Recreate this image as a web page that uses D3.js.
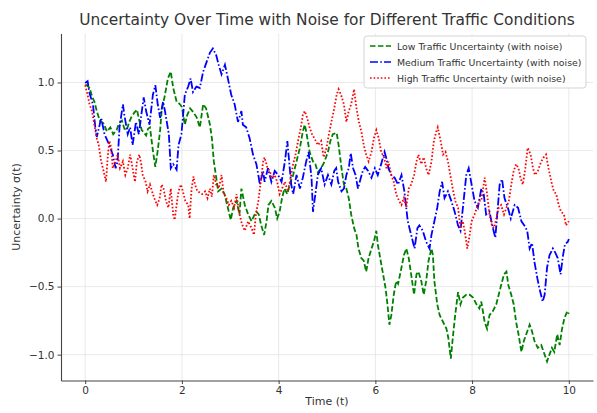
<!DOCTYPE html>
<html>
<head>
<meta charset="utf-8">
<script src="https://cdn.jsdelivr.net/npm/d3@7"></script>
<style>
  body { margin: 0; background: #fff; }
  svg text { font-family: "DejaVu Sans", sans-serif; fill: #333; }
</style>
</head>
<body>
<div id="chart"></div>
<script>
"use strict";

// values, [t, sigma]
var low = [[0,0.98],[0.03,0.98],[0.09,0.96],[0.15,0.89],[0.19,0.86],[0.24,0.79],[0.30,0.72],[0.38,0.70],[0.45,0.64],[0.52,0.67],[0.58,0.62],[0.65,0.65],[0.70,0.70],[0.76,0.72],[0.81,0.66],[0.86,0.65],[0.91,0.71],[0.96,0.75],[1.02,0.78],[1.07,0.80],[1.12,0.72],[1.17,0.65],[1.22,0.63],[1.26,0.61],[1.30,0.66],[1.34,0.67],[1.40,0.50],[1.45,0.38],[1.50,0.50],[1.55,0.65],[1.58,0.79],[1.65,0.91],[1.71,1.03],[1.77,1.08],[1.82,0.96],[1.89,0.86],[1.96,0.84],[2.00,0.82],[2.06,0.69],[2.11,0.76],[2.17,0.81],[2.24,0.78],[2.31,0.74],[2.37,0.67],[2.44,0.84],[2.50,0.81],[2.58,0.69],[2.62,0.59],[2.66,0.42],[2.71,0.30],[2.75,0.20],[2.82,0.22],[2.88,0.18],[2.95,0.08],[3.01,-0.01],[3.06,0.08],[3.13,0.13],[3.19,0.03],[3.23,0.22],[3.30,0.10],[3.37,0.03],[3.44,-0.02],[3.49,0.02],[3.54,0.05],[3.59,0.03],[3.64,-0.05],[3.70,-0.12],[3.75,-0.02],[3.79,0.10],[3.85,0.13],[3.92,0.08],[3.97,0.00],[4.02,0.05],[4.07,0.15],[4.12,0.22],[4.18,0.18],[4.23,0.25],[4.30,0.32],[4.37,0.42],[4.44,0.52],[4.50,0.64],[4.54,0.69],[4.57,0.64],[4.64,0.49],[4.71,0.42],[4.76,0.40],[4.81,0.34],[4.88,0.37],[4.95,0.42],[5.02,0.49],[5.07,0.57],[5.12,0.62],[5.20,0.63],[5.24,0.54],[5.30,0.37],[5.35,0.25],[5.40,0.22],[5.45,0.15],[5.50,0.03],[5.56,-0.07],[5.61,-0.12],[5.65,-0.22],[5.71,-0.29],[5.76,-0.31],[5.81,-0.39],[5.86,-0.29],[5.92,-0.22],[5.97,-0.17],[6.02,-0.09],[6.05,-0.19],[6.11,-0.31],[6.16,-0.41],[6.21,-0.51],[6.25,-0.63],[6.29,-0.78],[6.33,-0.71],[6.38,-0.56],[6.43,-0.46],[6.47,-0.48],[6.54,-0.36],[6.59,-0.27],[6.64,-0.22],[6.69,-0.29],[6.74,-0.41],[6.80,-0.56],[6.85,-0.41],[6.89,-0.39],[6.95,-0.46],[7.00,-0.56],[7.05,-0.46],[7.10,-0.31],[7.16,-0.22],[7.19,-0.27],[7.22,-0.46],[7.28,-0.63],[7.33,-0.71],[7.40,-0.76],[7.47,-0.81],[7.51,-0.88],[7.56,-1.03],[7.60,-0.88],[7.65,-0.71],[7.71,-0.54],[7.76,-0.63],[7.81,-0.58],[7.88,-0.56],[7.95,-0.56],[8.02,-0.58],[8.09,-0.63],[8.15,-0.66],[8.19,-0.61],[8.26,-0.76],[8.31,-0.81],[8.36,-0.71],[8.43,-0.68],[8.50,-0.63],[8.55,-0.56],[8.60,-0.49],[8.66,-0.41],[8.71,-0.39],[8.75,-0.49],[8.81,-0.56],[8.86,-0.63],[8.91,-0.76],[8.96,-0.85],[9.02,-0.98],[9.07,-0.90],[9.12,-0.85],[9.19,-0.78],[9.24,-0.83],[9.29,-0.90],[9.36,-0.95],[9.43,-0.93],[9.48,-0.98],[9.55,-1.05],[9.60,-1.00],[9.65,-0.95],[9.70,-0.98],[9.76,-0.85],[9.81,-0.93],[9.86,-0.81],[9.91,-0.73],[9.97,-0.68],[10,-0.70]];

var medium = [[0,0.996],[0.05,1.01],[0.09,0.92],[0.16,0.84],[0.21,0.67],[0.24,0.60],[0.30,0.69],[0.33,0.74],[0.40,0.62],[0.50,0.54],[0.57,0.47],[0.63,0.37],[0.67,0.42],[0.71,0.67],[0.78,0.84],[0.81,0.76],[0.88,0.62],[0.93,0.67],[0.98,0.54],[1.05,0.71],[1.11,0.62],[1.16,0.76],[1.21,0.89],[1.26,0.79],[1.33,0.69],[1.40,0.91],[1.45,0.98],[1.50,0.84],[1.55,0.74],[1.61,0.86],[1.65,0.79],[1.73,0.62],[1.77,0.37],[1.82,0.40],[1.89,0.36],[1.93,0.54],[1.99,0.62],[2.02,0.74],[2.06,0.91],[2.13,0.97],[2.18,1.03],[2.23,0.93],[2.30,0.97],[2.37,0.96],[2.44,1.08],[2.51,1.15],[2.58,1.22],[2.64,1.25],[2.71,1.20],[2.76,1.13],[2.82,1.06],[2.89,1.13],[2.95,1.03],[3.02,0.91],[3.09,0.84],[3.16,0.71],[3.23,0.79],[3.26,0.69],[3.33,0.67],[3.40,0.59],[3.47,0.47],[3.54,0.40],[3.59,0.30],[3.61,0.25],[3.68,0.35],[3.71,0.27],[3.78,0.37],[3.85,0.27],[3.92,0.35],[3.99,0.32],[4.06,0.27],[4.13,0.42],[4.18,0.57],[4.23,0.37],[4.26,0.25],[4.30,0.18],[4.37,0.32],[4.44,0.22],[4.50,0.30],[4.57,0.42],[4.62,0.49],[4.68,0.30],[4.71,0.05],[4.76,0.18],[4.81,0.32],[4.88,0.37],[4.95,0.25],[5.02,0.32],[5.09,0.25],[5.15,0.35],[5.19,0.37],[5.23,0.27],[5.30,0.20],[5.35,0.22],[5.40,0.32],[5.45,0.37],[5.49,0.48],[5.54,0.37],[5.59,0.32],[5.64,0.22],[5.70,0.30],[5.74,0.35],[5.79,0.38],[5.85,0.35],[5.92,0.30],[5.99,0.37],[6.05,0.32],[6.12,0.40],[6.19,0.49],[6.23,0.44],[6.27,0.37],[6.33,0.32],[6.40,0.30],[6.47,0.25],[6.54,0.32],[6.60,0.20],[6.67,-0.02],[6.74,-0.12],[6.81,-0.22],[6.87,-0.07],[6.91,-0.05],[6.98,-0.09],[7.05,-0.17],[7.12,-0.22],[7.16,-0.12],[7.22,-0.02],[7.28,0.08],[7.33,0.20],[7.38,0.27],[7.43,0.15],[7.50,0.20],[7.57,0.13],[7.64,0.05],[7.71,-0.05],[7.76,-0.09],[7.81,0.08],[7.88,0.32],[7.93,0.37],[7.98,0.27],[8.05,0.13],[8.12,0.08],[8.19,0.22],[8.24,0.18],[8.29,0.03],[8.36,0.05],[8.43,-0.07],[8.48,-0.14],[8.52,0.03],[8.57,0.25],[8.62,0.29],[8.67,0.15],[8.74,0.08],[8.80,0.00],[8.88,0.10],[8.95,0.08],[9.02,-0.02],[9.08,-0.05],[9.14,-0.09],[9.19,-0.22],[9.24,-0.18],[9.29,-0.32],[9.35,-0.44],[9.39,-0.51],[9.46,-0.61],[9.50,-0.56],[9.55,-0.36],[9.60,-0.27],[9.67,-0.22],[9.72,-0.25],[9.77,-0.29],[9.83,-0.41],[9.88,-0.27],[9.92,-0.19],[9.98,-0.17],[10,-0.15]];

var high = [[0,0.98],[0.05,0.91],[0.09,0.84],[0.14,0.79],[0.19,0.69],[0.24,0.59],[0.28,0.54],[0.33,0.42],[0.38,0.35],[0.43,0.27],[0.47,0.47],[0.50,0.57],[0.54,0.52],[0.57,0.37],[0.63,0.42],[0.67,0.47],[0.72,0.37],[0.78,0.42],[0.83,0.32],[0.88,0.37],[0.93,0.47],[0.98,0.37],[1.03,0.27],[1.07,0.42],[1.12,0.47],[1.16,0.40],[1.19,0.32],[1.25,0.27],[1.29,0.20],[1.34,0.25],[1.40,0.18],[1.45,0.13],[1.49,0.10],[1.54,0.15],[1.58,0.25],[1.62,0.22],[1.67,0.13],[1.72,0.08],[1.77,0.22],[1.82,0.03],[1.85,-0.01],[1.89,0.10],[1.93,0.20],[1.98,0.25],[2.02,0.20],[2.07,0.13],[2.13,0.10],[2.16,0.00],[2.20,0.22],[2.24,0.31],[2.27,0.25],[2.32,0.20],[2.38,0.19],[2.42,0.18],[2.48,0.20],[2.53,0.15],[2.58,0.22],[2.62,0.16],[2.66,0.32],[2.71,0.25],[2.76,0.22],[2.82,0.32],[2.86,0.19],[2.92,0.15],[2.97,0.10],[3.02,0.13],[3.08,0.08],[3.13,0.18],[3.18,0.05],[3.24,-0.04],[3.30,-0.09],[3.37,-0.02],[3.44,-0.07],[3.49,-0.12],[3.53,0.03],[3.58,0.13],[3.63,0.27],[3.68,0.42],[3.71,0.45],[3.77,0.37],[3.82,0.35],[3.85,0.30],[3.92,0.32],[3.97,0.27],[4.02,0.18],[4.07,0.22],[4.13,0.27],[4.19,0.20],[4.25,0.30],[4.30,0.40],[4.35,0.47],[4.40,0.57],[4.46,0.67],[4.50,0.76],[4.54,0.79],[4.59,0.74],[4.64,0.67],[4.69,0.62],[4.74,0.59],[4.81,0.54],[4.88,0.57],[4.93,0.45],[4.99,0.52],[5.04,0.62],[5.09,0.71],[5.15,0.81],[5.20,0.91],[5.24,0.95],[5.29,0.91],[5.35,0.84],[5.40,0.71],[5.45,0.79],[5.50,0.84],[5.56,0.95],[5.61,0.81],[5.66,0.71],[5.71,0.64],[5.76,0.54],[5.81,0.47],[5.86,0.42],[5.92,0.49],[5.97,0.59],[6.02,0.65],[6.07,0.59],[6.12,0.49],[6.18,0.45],[6.23,0.37],[6.27,0.42],[6.33,0.32],[6.38,0.27],[6.43,0.18],[6.49,0.13],[6.54,0.10],[6.59,0.15],[6.64,0.08],[6.69,0.22],[6.74,0.25],[6.80,0.32],[6.85,0.42],[6.89,0.47],[6.95,0.40],[7.00,0.45],[7.05,0.37],[7.10,0.32],[7.16,0.42],[7.21,0.57],[7.26,0.64],[7.29,0.67],[7.35,0.57],[7.40,0.47],[7.45,0.49],[7.50,0.42],[7.56,0.30],[7.60,0.22],[7.65,0.13],[7.71,0.08],[7.76,-0.07],[7.81,-0.02],[7.86,-0.12],[7.90,-0.22],[7.95,-0.12],[7.99,-0.02],[8.05,0.03],[8.10,0.08],[8.15,0.13],[8.19,0.13],[8.26,0.30],[8.31,0.18],[8.36,0.03],[8.41,-0.05],[8.45,-0.07],[8.50,0.00],[8.55,0.08],[8.60,0.10],[8.66,0.03],[8.71,0.08],[8.76,0.13],[8.81,0.25],[8.86,0.35],[8.91,0.40],[8.96,0.37],[9.00,0.30],[9.05,0.25],[9.10,0.37],[9.15,0.52],[9.21,0.47],[9.26,0.37],[9.30,0.32],[9.36,0.35],[9.43,0.42],[9.48,0.45],[9.53,0.47],[9.58,0.37],[9.64,0.27],[9.69,0.20],[9.74,0.18],[9.79,0.10],[9.84,0.05],[9.90,0.03],[9.94,-0.05],[10,-0.02]];

var x_ticks = [0, 2, 4, 6, 8, 10];
var y_ticks = [-1.0, -0.5, 0.0, 0.5, 1.0];

var series = [
    { name: 'Low Traffic Uncertainty (with noise)', values: low, color: 'green', dash: '5.5,2.4' },
    { name: 'Medium Traffic Uncertainty (with noise)', values: medium, color: 'blue', dash: '8,2.2,1.6,2.2' },
    { name: 'High Traffic Uncertainty (with noise)', values: high, color: 'red', dash: '1.6,2' }
];

var width = 597;
var height = 413;

var m_left = 61, m_right = 593, m_top = 33.5, m_bottom = 380.5;

var svg = d3.select('#chart').append('svg')
    .attr('width', width)
    .attr('height', height);

var x = d3.scaleLinear().domain([-0.5, 10.5]).range([m_left, m_right]);
var y = d3.scaleLinear().domain([-1.19, 1.36]).range([m_bottom, m_top]);

// grid
var grid = svg.append('g').attr('class', 'grid');
grid.selectAll('.gx').data(x_ticks).enter().append('line')
    .attr('x1', function(d) { return x(d); })
    .attr('x2', function(d) { return x(d); })
    .attr('y1', m_top).attr('y2', m_bottom)
    .attr('stroke', '#e3e3e3').attr('stroke-width', 0.8);
grid.selectAll('.gy').data(y_ticks).enter().append('line')
    .attr('y1', function(d) { return y(d); })
    .attr('y2', function(d) { return y(d); })
    .attr('x1', m_left).attr('x2', m_right)
    .attr('stroke', '#e3e3e3').attr('stroke-width', 0.8);

// lines
var line = d3.line()
    .x(function(d) { return x(d[0]); })
    .y(function(d) { return y(d[1]); });

svg.append('g').selectAll('path').data(series).enter().append('path')
    .attr('d', function(d) { return line(d.values); })
    .attr('fill', 'none')
    .attr('stroke', function(d) { return d.color; })
    .attr('stroke-width', 1.8)
    .attr('stroke-dasharray', function(d) { return d.dash; });

// axes
var fmt = function(d) { return d3.format('.1f')(d).replace('-', '\u2212'); };

var x_axis = svg.append('g')
    .attr('transform', 'translate(0,' + m_bottom + ')')
    .call(d3.axisBottom(x).tickValues(x_ticks).tickSize(3.5).tickSizeOuter(0).tickPadding(3));
var y_axis = svg.append('g')
    .attr('transform', 'translate(' + m_left + ',0)')
    .call(d3.axisLeft(y).tickValues(y_ticks).tickFormat(fmt).tickSize(3.5).tickSizeOuter(0).tickPadding(3));

[x_axis, y_axis].forEach(function(a) {
    a.select('.domain').attr('stroke', '#444').attr('stroke-width', 1.1);
    a.selectAll('.tick line').attr('stroke', '#444');
    a.selectAll('.tick text').attr('font-size', 10.5).attr('fill', '#333');
});

svg.append('text')
    .attr('x', (m_left + m_right) / 2).attr('y', 405)
    .attr('text-anchor', 'middle')
    .attr('font-size', 11)
    .text('Time (t)');

svg.append('text')
    .attr('transform', 'translate(20,' + ((m_top + m_bottom) / 2) + ') rotate(-90)')
    .attr('text-anchor', 'middle')
    .attr('font-size', 11)
    .text('Uncertainty \u03c3(t)');

svg.append('text')
    .attr('x', (m_left + m_right) / 2).attr('y', 25)
    .attr('text-anchor', 'middle')
    .attr('font-size', 15.4)
    .text('Uncertainty Over Time with Noise for Different Traffic Conditions');

// legend
var legend = svg.append('g').attr('transform', 'translate(364,36)');
legend.append('rect')
    .attr('width', 222).attr('height', 52).attr('rx', 3)
    .attr('fill', '#fff').attr('fill-opacity', 0.85)
    .attr('stroke', '#d5d5d5');

var entry = legend.selectAll('.entry').data(series).enter().append('g')
    .attr('transform', function(d, i) { return 'translate(0,' + (10 + i * 16) + ')'; });
entry.append('line')
    .attr('x1', 6).attr('x2', 27)
    .attr('stroke', function(d) { return d.color; })
    .attr('stroke-width', 1.6)
    .attr('stroke-dasharray', function(d) { return d.dash; });
entry.append('text')
    .attr('x', 33).attr('y', 3.5)
    .attr('font-size', 9.4)
    .text(function(d) { return d.name; });
</script>
</body>
</html>
